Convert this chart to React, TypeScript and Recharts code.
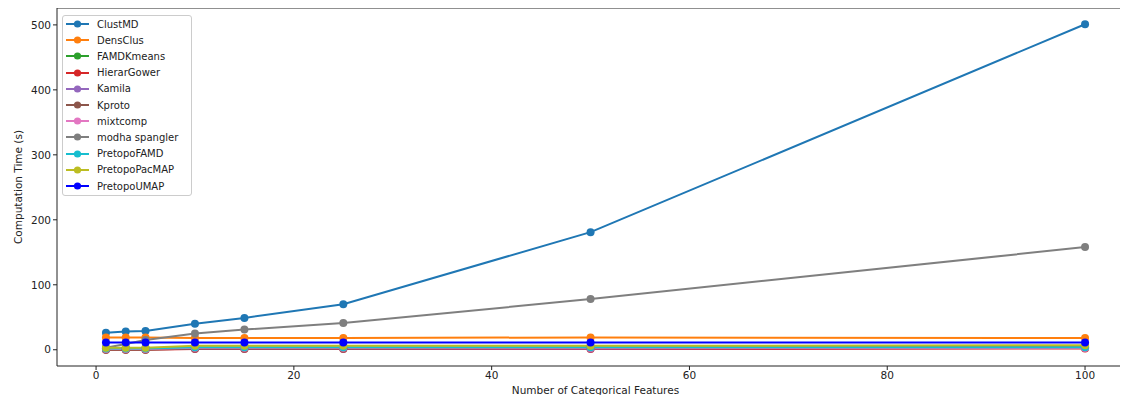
import { LineChart, Line, XAxis, YAxis, ReferenceLine } from "recharts";

const features = [1, 3, 5, 10, 15, 25, 50, 100];

const clustMD = [26, 28, 29, 40, 49, 70, 181, 501];
const densClus = [19, 19, 19, 18, 18, 18, 19, 18];
const famdKmeans = [2, 2, 2, 3, 3, 3, 3, 4];
const hierarGower = [0, 0, 0, 1, 1, 1, 1, 2];
const kamila = [1, 1, 1, 2, 2, 2, 2, 3];
const kproto = [0, 0, 0, 2, 2, 2, 3, 5];
const mixtcomp = [1, 1, 1, 3, 3, 3, 3, 3];
const modhaSpangler = [3, 9, 15, 25, 31, 41, 78, 158];
const pretopoFAMD = [2, 2, 2, 4, 4, 4, 4, 4];
const pretopoPacMAP = [3, 3, 3, 6, 6, 6, 6, 7];
const pretopoUMAP = [11, 11, 11, 11, 11, 11, 11, 11];

const xTicks = [0, 20, 40, 60, 80, 100];
const yTicks = [0, 100, 200, 300, 400, 500];

const series = [
  { key: "ClustMD", values: clustMD, color: "#1f77b4" },
  { key: "DensClus", values: densClus, color: "#ff7f0e" },
  { key: "FAMDKmeans", values: famdKmeans, color: "#2ca02c" },
  { key: "HierarGower", values: hierarGower, color: "#d62728" },
  { key: "Kamila", values: kamila, color: "#9467bd" },
  { key: "Kproto", values: kproto, color: "#8c564b" },
  { key: "mixtcomp", values: mixtcomp, color: "#e377c2" },
  { key: "modha spangler", values: modhaSpangler, color: "#7f7f7f" },
  { key: "PretopoFAMD", values: pretopoFAMD, color: "#17becf" },
  { key: "PretopoPacMAP", values: pretopoPacMAP, color: "#bcbd22" },
  { key: "PretopoUMAP", values: pretopoUMAP, color: "#0000ff" },
];

const data = features.map((f, i) => {
  const row: Record<string, number> = { x: f };
  series.forEach((s) => (row[s.key] = s.values[i]));
  return row;
});

const font = "'DejaVu Sans', sans-serif";
const tick = { fontSize: 10.5, fill: "#222", fontFamily: font };

function LegendBox() {
  return (
    <div
      style={{
        position: "absolute",
        left: 62,
        top: 15,
        width: 128,
        height: 179,
        border: "1px solid #ccc",
        borderRadius: 3,
        background: "rgba(255,255,255,0.8)",
        fontFamily: font,
        fontSize: 10,
        color: "#222",
      }}
    >
      {series.map((s, i) => (
        <div key={s.key} style={{ position: "absolute", left: 2, top: 1 + i * 16.2, height: 14, display: "flex", alignItems: "center" }}>
          <svg width={26} height={14}>
            <line x1={1} y1={7} x2={24} y2={7} stroke={s.color} strokeWidth={2} />
            <circle cx={12.5} cy={7} r={3.6} fill={s.color} />
          </svg>
          <span style={{ marginLeft: 6, whiteSpace: "nowrap" }}>{s.key}</span>
        </div>
      ))}
    </div>
  );
}

export default function App() {
  return (
    <div style={{ margin: -8, width: 1128, height: 403, overflow: "hidden", position: "relative", background: "#fff" }}>
      <LineChart width={1140} height={403} data={data} margin={{ top: 8, right: 6, bottom: 0, left: 0 }}>
        <XAxis
          dataKey="x"
          type="number"
          domain={[-3.95, 104.95]}
          ticks={xTicks}
          tick={tick}
          tickSize={4}
          height={37}
          stroke="#222"
          allowDataOverflow
          label={{ value: "Number of Categorical Features", position: "insideBottom", offset: 9, style: { fontSize: 10.5, fill: "#222", fontFamily: font } }}
        />
        <YAxis
          type="number"
          domain={[-25, 526]}
          ticks={yTicks}
          tick={tick}
          tickSize={4}
          width={57}
          stroke="#222"
          allowDataOverflow
          label={{ value: "Computation Time (s)", angle: -90, position: "insideLeft", offset: 18, style: { fontSize: 10.5, fill: "#222", fontFamily: font, textAnchor: "middle" } }}
        />
        <ReferenceLine y={526} stroke="#222" />
        {series.map((s) => (
          <Line
            key={s.key}
            dataKey={s.key}
            stroke={s.color}
            strokeWidth={2}
            dot={{ r: 4, fill: s.color, stroke: s.color, strokeWidth: 0 }}
            isAnimationActive={false}
          />
        ))}
      </LineChart>
      <LegendBox />
    </div>
  );
}
